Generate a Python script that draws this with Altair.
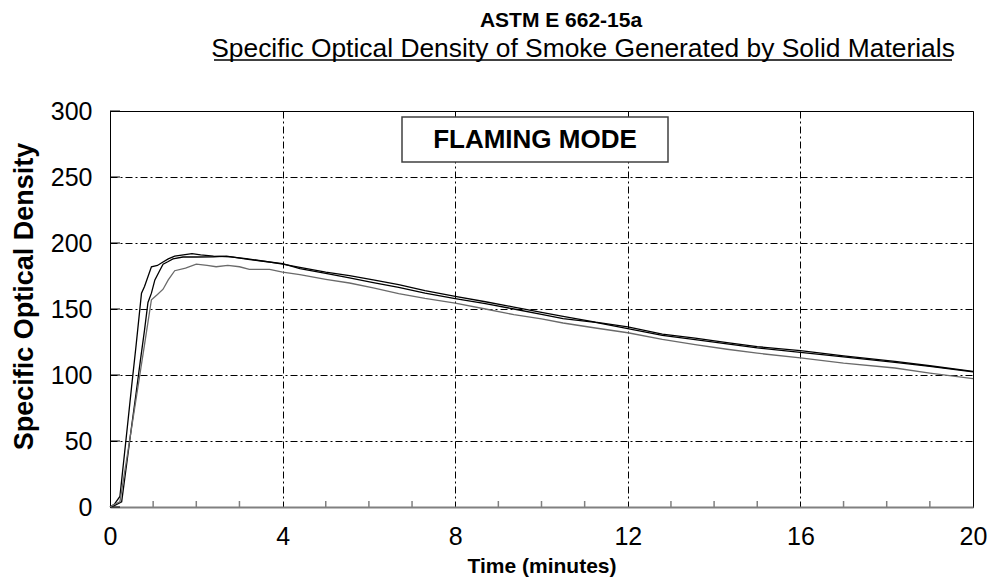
import altair as alt
import pandas as pd

# ---- data ----
runs = ["Specimen 1", "Specimen 2", "Specimen 3"]

t_a = [0, 0.1, 0.23, 0.4, 0.5, 0.6, 0.73, 0.8, 0.96, 1.1, 1.2, 1.35, 1.5, 1.7, 1.9, 2.1, 2.4, 2.8, 3.2, 3.6,
       4.0, 4.4, 5.0, 5.55, 6.1, 6.69, 7.3, 8.0, 8.7, 9.36, 10.0, 10.5, 11.25, 12.0, 12.8, 13.56, 14.3, 15.0, 16.0, 17.0,
       18.19, 19.0, 20.0]
d_a = [0, 2, 8, 60, 91, 121, 162, 167, 182, 183, 185, 188, 190, 191, 192, 191, 190, 189.5, 188, 186,
       184, 181.6, 178, 175.3, 172, 168.4, 164, 159.6, 155.5, 151.5, 147.5, 144.4, 140, 136.4, 131, 128, 124.5, 121.5, 118.4, 114.5,
       110.4, 107, 102.8]

t_b = [0, 0.1, 0.27, 0.4, 0.5, 0.6, 0.7, 0.8, 0.88, 0.96, 1.04, 1.15, 1.23, 1.35, 1.46, 1.69, 2.0, 2.4, 2.7, 3.2,
       3.6, 4.0, 4.4, 5.0, 5.55, 6.1, 6.69, 7.3, 8.0, 8.7, 9.36, 10.0, 10.5, 11.25, 12.0, 12.8, 13.56, 14.3, 15.0, 16.0,
       17.0, 18.19, 19.0, 20.0]
d_b = [0, 1, 4, 36, 61, 85, 110, 134, 155, 162, 172, 179, 184, 186, 188, 189.4, 189.4, 189.6, 190, 187.6,
       186, 184.3, 180.5, 177, 173.5, 170, 166.4, 162, 157.8, 154, 150, 146, 142.7, 139.9, 135.2, 130, 126.8, 123.5, 120.5, 117.2,
       113.8, 109.6, 106.5, 102.3]

t_c = [0, 0.1, 0.23, 0.4, 0.5, 0.6, 0.7, 0.8, 0.96, 1.1, 1.23, 1.35, 1.5, 1.75, 2.0, 2.25, 2.46, 2.73, 3.0, 3.23,
       3.7, 4.0, 4.4, 5.0, 5.55, 6.1, 6.69, 7.3, 8.0, 8.7, 9.36, 10.0, 10.5, 11.25, 12.0, 12.8, 13.56, 14.3, 15.0, 16.0,
       17.0, 18.19, 19.0, 20.0]
d_c = [0, 2, 4, 39, 60, 81, 102, 123, 157, 161, 165, 172, 179, 181, 184, 183, 182, 183, 182, 180,
       180, 178, 176, 172.5, 169.7, 166, 161.6, 158, 154.5, 150, 145.7, 142.5, 139.4, 135.6, 132, 127, 123, 119.5, 116.5, 112.9,
       109, 105.3, 101.5, 97.2]

x_ticks = [0, 4, 8, 12, 16, 20]
x_minor = [1, 2, 3, 5, 6, 7, 9, 10, 11, 13, 14, 15, 17, 18, 19]
y_ticks = [0, 50, 100, 150, 200, 250, 300]

title_text = "ASTM E 662-15a"
subtitle_text = "Specific Optical Density of Smoke Generated by Solid Materials"
mode_text = "FLAMING MODE"
x_title = "Time (minutes)"
y_title = "Specific Optical Density"

# ---- tables ----
rows = []
for name, ts, ds in zip(runs, [t_a, t_b, t_c], [d_a, d_b, d_c]):
    for t, d in zip(ts, ds):
        rows.append({"run": name, "time": t, "sod": d})
df = pd.DataFrame(rows)

W, H = 863, 396
FONT = "Liberation Sans"

xenc = alt.X("time:Q",
             scale=alt.Scale(domain=[0, 20], nice=False, zero=False),
             axis=alt.Axis(values=x_ticks, title=x_title, format="d"))
yenc = alt.Y("sod:Q",
             scale=alt.Scale(domain=[0, 300], nice=False),
             axis=alt.Axis(values=y_ticks, title=y_title, format="d"))

lines = alt.Chart(df).mark_line(strokeWidth=1.3).encode(
    x=xenc, y=yenc,
    color=alt.Color("run:N", scale=alt.Scale(domain=runs, range=["#000000", "#000000", "#6a6a6a"]), legend=None),
    order="time:Q",
)

xminor = alt.Chart(pd.DataFrame({"time": x_minor})).mark_rule(color="#808080", strokeWidth=1.5).encode(
    x=xenc, y=alt.value(H), y2=alt.value(H - 6))

yminor = alt.Chart(pd.DataFrame({"sod": y_ticks})).mark_rule(color="#000000", strokeWidth=1).encode(
    y=yenc, x=alt.value(0), x2=alt.value(10))

lab = pd.DataFrame({"title": [title_text], "subtitle": [subtitle_text], "mode": [mode_text]})

box = alt.Chart(lab).mark_rect(fill="white", stroke="#404040", strokeWidth=1.5).encode(
    x=alt.value(292), x2=alt.value(558), y=alt.value(6), y2=alt.value(51))
box_text = alt.Chart(lab).mark_text(font=FONT, fontSize=26, fontWeight="bold", color="black",
                                    align="center", baseline="middle").encode(
    text="mode:N", x=alt.value(425), y=alt.value(29))

title = alt.Chart(lab).mark_text(font=FONT, fontSize=21, fontWeight="bold", color="black",
                                 align="center", baseline="alphabetic").encode(
    text="title:N", x=alt.value(451), y=alt.value(-84))
subtitle = alt.Chart(lab).mark_text(font=FONT, fontSize=26.4, color="black",
                                    align="center", baseline="alphabetic").encode(
    text="subtitle:N", x=alt.value(473), y=alt.value(-54))
underline = alt.Chart(lab).mark_rule(color="black", strokeWidth=1.5).encode(
    x=alt.value(104), x2=alt.value(842), y=alt.value(-51))

chart = alt.layer(xminor, yminor, lines, box, box_text, title, subtitle, underline).properties(
    width=W, height=H,
    autosize=alt.AutoSizeParams(type="none"),
    padding={"left": 102, "top": 103, "right": 14, "bottom": 71},
).configure_view(
    stroke="black", strokeWidth=1
).configure_axis(
    labelFont=FONT, labelFontSize=25, labelColor="black",
    titleFont=FONT, titleFontWeight="bold", titleColor="black",
    ticks=False, grid=True, gridColor="black", gridDash=[7, 3, 2, 3], gridWidth=1, gridOpacity=1,
    labelFlush=False, labelOverlap=False,
).configure_axisX(
    domainColor="#808080", domainWidth=2, labelPadding=17, titlePadding=6, titleFontSize=21,
).configure_axisY(
    domainColor="black", domainWidth=1, labelPadding=18, titlePadding=11.5, titleFontSize=27, titleY=185,
)

chart.save("out.html", embed_options={"renderer": "svg", "actions": False})
